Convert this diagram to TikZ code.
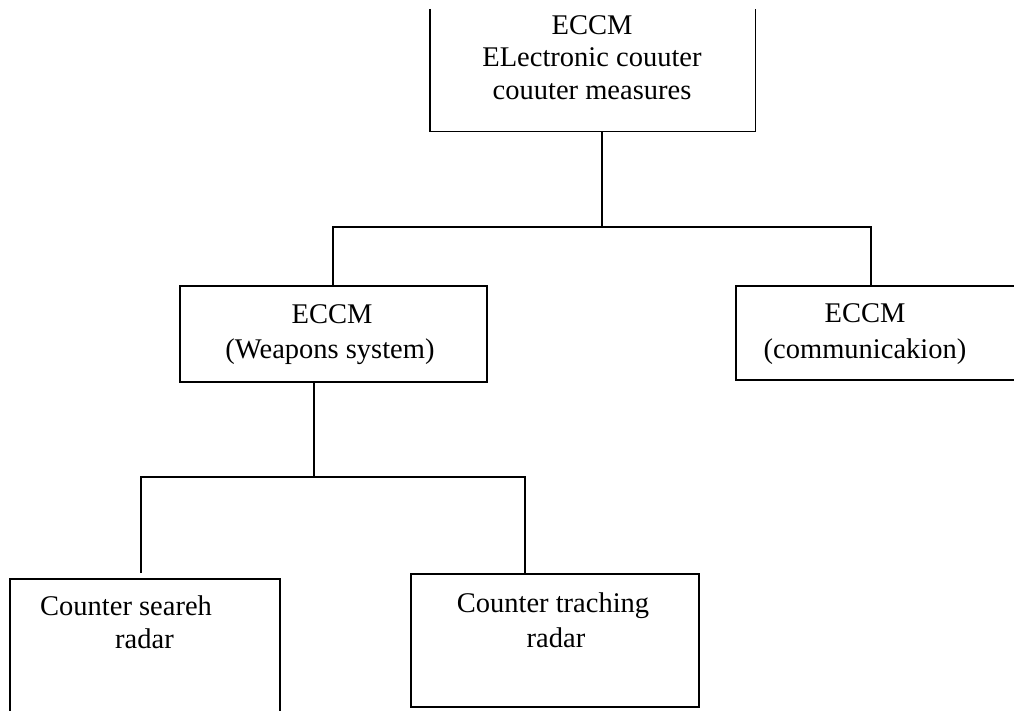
\documentclass[tikz,border=0pt]{standalone}
\usepackage{fontspec}
\setmainfont{Liberation Serif}
\begin{document}
\begin{tikzpicture}[x=1pt,y=-1pt,
  box/.style={draw, line width=1.6pt, anchor=north west, inner sep=0pt},
  openbox/.style={anchor=north west, inner sep=0pt},
  txt/.style={inner sep=0pt, font=\fontsize{28.5}{34}\selectfont},
  conn/.style={line width=1.6pt}]
\useasboundingbox (0,0) rectangle (1014,711);
% boxes
\node[openbox, minimum width=325pt, minimum height=122pt] (top) at (430,9) {};
\draw[conn] (top.north west) -- (top.south west) -- (top.south east) -- (top.north east);
\node[box, minimum width=307pt, minimum height=96pt] (wpn) at (179,285) {};
\node[box, minimum width=281pt, minimum height=94pt] (comm) at (735,285) {};
\node[box, minimum width=270pt, minimum height=142pt] (srch) at (9,578) {};
\node[box, minimum width=288pt, minimum height=133pt] (trk) at (410,573) {};
% texts
\node[txt, anchor=base] (ta) at (592,35) {ECCM};
\node[txt, anchor=base] (tb) at (592,67) {ELectronic couuter};
\node[txt, anchor=base] (tc) at (592,100) {couuter measures};
\node[txt, anchor=base] (wa) at (332,323) {ECCM};
\node[txt, anchor=base] (wb) at (330,358) {(Weapons system)};
\node[txt, anchor=base] (ca) at (865,322) {ECCM};
\node[txt, anchor=base] (cb) at (865,358) {(communicakion)};
\node[txt, anchor=base west] (sa) at (40,615) {Counter seareh};
\node[txt, anchor=base west] (sb) at (115,648) {radar};
\node[txt, anchor=base] (ka) at (553,612) {Counter traching};
\node[txt, anchor=base] (kb) at (556,647) {radar};
% junctions
\coordinate (j1) at (602,227);
\coordinate (j1l) at (333,227);
\coordinate (j1r) at (871,227);
\coordinate (j2) at (314,477);
\coordinate (j2l) at (141,477);
\coordinate (j2r) at (525,477);
% connectors
\draw[conn] (top.south -| j1) -- (j1);
\draw[conn] (wpn.north -| j1l) -- (j1l) -- (j1r) -- (comm.north -| j1r);
\draw[conn] (wpn.south -| j2) -- (j2);
\draw[conn] ([yshift=5pt]srch.north -| j2l) -- (j2l) -- (j2r) -- (trk.north -| j2r);
\end{tikzpicture}
\end{document}
